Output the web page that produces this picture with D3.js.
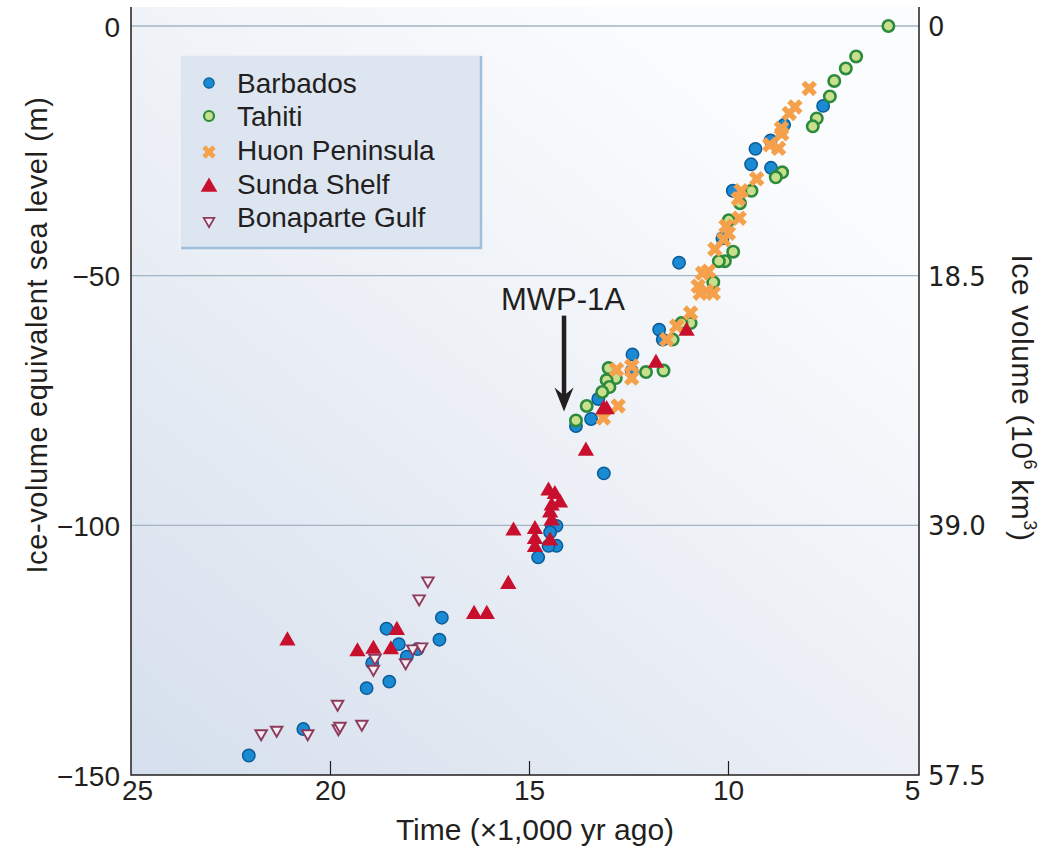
<!DOCTYPE html>
<html><head><meta charset="utf-8">
<script src="https://cdn.jsdelivr.net/npm/d3@7"></script>
<style>
html,body{margin:0;padding:0;background:#fff;}
svg{display:block;}
text{fill:#231f20;}
</style></head>
<body>
<svg id="chart" width="1043" height="850" font-family="'Liberation Sans',Arial,Helvetica,sans-serif"></svg>
<script>
// ---- Data (time in kyr ago, sea level in m) ----
const barbados = [[22.04,-146.1],[20.67,-140.8],[19.08,-132.6],[18.51,-131.3],[18.94,-127.6],[18.58,-120.7],[18.27,-123.8],[18.07,-126.3],[17.80,-124.8],[17.25,-122.9],[17.19,-118.5],[14.77,-106.4],[14.43,-100.1],[14.31,-100.1],[14.47,-101.4],[14.31,-104.1],[14.51,-104.1],[13.12,-89.6],[13.82,-80.1],[13.44,-78.7],[13.26,-74.7],[12.40,-65.8],[12.42,-69.1],[11.73,-60.8],[11.64,-62.8],[11.23,-47.4],[10.14,-42.5],[9.88,-33.0],[9.42,-27.7],[8.92,-28.4],[9.31,-24.6],[8.93,-22.9],[8.59,-19.8],[7.61,-16.0]];
const tahiti = [[5.97,0],[6.78,-6.1],[7.04,-8.5],[7.33,-11.0],[7.44,-14.1],[7.77,-18.5],[7.87,-20.1],[8.64,-29.3],[8.80,-30.3],[9.41,-33.0],[9.70,-35.5],[9.98,-38.9],[9.87,-45.2],[10.08,-47.1],[10.23,-47.1],[10.37,-51.3],[10.94,-59.5],[11.17,-59.5],[11.39,-62.8],[11.62,-69.0],[12.06,-69.3],[13.00,-68.5],[12.82,-70.5],[13.05,-70.9],[12.98,-72.3],[13.16,-73.3],[13.55,-76.1],[13.82,-79.0]];
const huon = [[7.96,-12.5],[8.32,-16.2],[8.46,-17.5],[8.66,-20.5],[8.65,-21.6],[8.95,-23.8],[8.73,-24.5],[9.28,-30.6],[9.67,-33.0],[9.74,-34.6],[9.72,-38.5],[10.05,-40.1],[9.99,-41.5],[10.11,-42.8],[10.33,-44.7],[10.49,-49.1],[10.64,-49.5],[10.75,-52.1],[10.70,-53.5],[10.54,-53.1],[10.37,-53.5],[10.94,-57.5],[11.29,-60.1],[11.54,-62.8],[12.42,-68.1],[12.80,-68.8],[12.42,-70.5],[12.76,-76.1],[13.13,-78.5]];
const sunda = [[21.07,-123.1],[19.31,-125.3],[18.91,-124.8],[18.47,-124.9],[18.32,-121.0],[16.38,-117.8],[16.06,-117.8],[15.52,-111.8],[15.39,-101.1],[14.85,-100.8],[14.85,-102.8],[14.85,-104.4],[14.47,-103.1],[14.51,-93.1],[14.35,-93.8],[14.22,-95.5],[14.43,-96.1],[14.47,-97.5],[14.43,-99.1],[13.57,-85.1],[13.13,-76.8],[13.05,-76.8],[11.81,-67.5],[11.04,-61.1]];
const bonaparte = [[21.73,-141.7],[21.34,-141.0],[20.56,-141.7],[19.81,-135.8],[19.79,-140.7],[19.75,-140.2],[19.20,-139.8],[18.87,-126.6],[18.91,-128.8],[18.10,-127.5],[17.92,-124.7],[17.70,-124.3],[17.76,-114.7],[17.54,-111.1]];

const seriesNames = ["Barbados","Tahiti","Huon Peninsula","Sunda Shelf","Bonaparte Gulf"];
const timeTicks = [25,20,15,10,5];
const seaTicks = [0,-50,-100,-150];
const seaTickLabels = ["0","\u221250","\u2212100","\u2212150"];
const iceVolumeLabels = ["0","18.5","39.0","57.5"];
const annotation = {label:"MWP-1A", time:14.12, textLevel:-56.8, arrowTop:-58, arrowTip:-77.2};

// ---- Layout ----
const svg = d3.select("#chart");
const L = 131, R = 919, T = 7, B = 775;
const x = d3.scaleLinear().domain([25,5]).range([131,927]);
const y = d3.scaleLinear().domain([-150,0]).range([775,26]);
const ink = "#231f20";
const sans = "'Liberation Sans',Arial,Helvetica,sans-serif";

const defs = svg.append("defs");
const grad = defs.append("linearGradient").attr("id","bg")
  .attr("x1","0").attr("y1","1").attr("x2","0.75").attr("y2","0.1");
grad.append("stop").attr("offset","0").attr("stop-color","#d5dfed");
grad.append("stop").attr("offset","0.55").attr("stop-color","#ecf0f6");
grad.append("stop").attr("offset","1").attr("stop-color","#fbfcfd");

svg.append("rect").attr("x",L).attr("y",T).attr("width",R-L).attr("height",B-T).attr("fill","url(#bg)");

// gridlines
svg.append("g").selectAll("line").data(seaTicks.slice(0,3)).join("line")
  .attr("x1",L).attr("x2",R).attr("y1",d=>y(d)).attr("y2",d=>y(d))
  .attr("stroke","#a3b4c4").attr("stroke-width",1.3);

// frame lines (left, bottom, right)
svg.append("path").attr("d",`M${L},${T}V${B}H${R}V${T}`).attr("fill","none").attr("stroke",ink).attr("stroke-width",1.5);

// x axis
const xAxis = svg.append("g").attr("transform",`translate(0,${B})`)
  .call(d3.axisBottom(x).tickValues(timeTicks).tickSizeInner(-14).tickSizeOuter(0).tickPadding(5).tickFormat(d3.format("d")));
xAxis.select(".domain").remove();
xAxis.selectAll(".tick line").attr("stroke",ink).attr("stroke-width",1.2)
  .attr("display",d=>(d===25||d===5)?"none":null);
xAxis.selectAll(".tick text").style("font-size","28px").style("fill",ink)
  .style("font-family",sans)
  .attr("dx",d=>d===25?6:(d===5?-15:0));

// left y axis
const yAxis = svg.append("g").attr("transform",`translate(${L},0)`)
  .call(d3.axisLeft(y).tickValues(seaTicks).tickSize(0).tickPadding(11).tickFormat((d,i)=>seaTickLabels[i]));
yAxis.select(".domain").remove();
yAxis.selectAll(".tick text").style("font-size","28px").style("fill",ink)
  .style("font-family",sans).attr("dy","0.36em");

// right axis
const yAxisR = svg.append("g").attr("transform",`translate(${R},0)`)
  .call(d3.axisRight(y).tickValues(seaTicks).tickSize(0).tickPadding(9).tickFormat((d,i)=>iceVolumeLabels[i]));
yAxisR.select(".domain").remove();
yAxisR.selectAll(".tick text").style("font-size","26px").style("fill",ink)
  .style("font-family","'DejaVu Sans',Verdana,sans-serif").attr("dy","0.36em");

// axis titles
svg.append("text").attr("x",535).attr("y",840).attr("text-anchor","middle").style("font-size","30px")
  .text("Time (\u00d71,000 yr ago)");
svg.append("text").attr("transform","translate(47,335) rotate(-90)").attr("text-anchor","middle")
  .style("font-size","29px").attr("letter-spacing","0.6")
  .text("Ice-volume equivalent sea level (m)");
const rt = svg.append("text").attr("transform","translate(1012,398) rotate(90)").attr("text-anchor","middle")
  .style("font-size","30px").attr("letter-spacing","0.6");
rt.append("tspan").text("Ice volume (10");
rt.append("tspan").style("font-size","18px").attr("dy",-12).text("6");
rt.append("tspan").attr("dy",12).text(" km");
rt.append("tspan").style("font-size","18px").attr("dy",-12).text("3");
rt.append("tspan").attr("dy",12).text(")");

// ---- markers ----
const gB = svg.append("g");
gB.selectAll("circle").data(barbados).join("circle")
  .attr("cx",d=>x(d[0])).attr("cy",d=>y(d[1])).attr("r",6.2)
  .attr("fill","#1a8ad2").attr("stroke","#0c5a98").attr("stroke-width",1.5);
const gT = svg.append("g");
gT.selectAll("circle").data(tahiti).join("circle")
  .attr("cx",d=>x(d[0])).attr("cy",d=>y(d[1])).attr("r",5.7)
  .attr("fill","#c8df8e").attr("stroke","#2c8a3c").attr("stroke-width",2.6);
const crossPath = d3.symbol().type(d3.symbolCross).size(150)();
const gH = svg.append("g");
gH.selectAll("path").data(huon).join("path")
  .attr("d",crossPath).attr("transform",d=>`translate(${x(d[0])},${y(d[1])}) rotate(45)`)
  .attr("fill","#f5a14c");
const triPath = d3.symbol().type(d3.symbolTriangle).size(115)();
const gS = svg.append("g");
gS.selectAll("path").data(sunda).join("path")
  .attr("d",triPath).attr("transform",d=>`translate(${x(d[0])},${y(d[1])})`)
  .attr("fill","#c8102e");
const triSmall = d3.symbol().type(d3.symbolTriangle).size(58)();
const gG = svg.append("g");
gG.selectAll("path").data(bonaparte).join("path")
  .attr("d",triSmall).attr("transform",d=>`translate(${x(d[0])},${y(d[1])}) rotate(180)`)
  .attr("fill","#f4eef3").attr("stroke","#8e3a5c").attr("stroke-width",1.9);

// ---- annotation ----
const ax = x(annotation.time);
svg.append("text").attr("x",ax-1).attr("y",y(annotation.textLevel)).attr("text-anchor","middle")
  .style("font-size","31px").text(annotation.label);
const tipY = y(annotation.arrowTip);
svg.append("line").attr("x1",ax).attr("x2",ax).attr("y1",y(annotation.arrowTop)).attr("y2",tipY-14)
  .attr("stroke",ink).attr("stroke-width",4.5);
svg.append("path").attr("d",`M${ax},${tipY} L${ax-9.5},${tipY-24} L${ax},${tipY-16} L${ax+9.5},${tipY-24} Z`)
  .attr("fill",ink);

// ---- legend ----
const lg = svg.append("g");
lg.append("rect").attr("x",180).attr("y",55).attr("width",301).attr("height",193)
  .attr("fill","#dce5f0").attr("stroke","#eef3f8").attr("stroke-width",1.5);
lg.append("path").attr("d","M481,56 V248 H181").attr("fill","none").attr("stroke","#9fc0dc").attr("stroke-width",2.5);
const rowY = [83,116,150,184,217];
const items = lg.selectAll("g.item").data(seriesNames).join("g").attr("class","item")
  .attr("transform",(d,i)=>`translate(209,${rowY[i]})`);
items.append("text").attr("x",28).attr("y",0).attr("dy","0.36em").style("font-size","28px").text(d=>d);
items.each(function(d,i){
  const g = d3.select(this);
  if(i===0) g.append("circle").attr("r",5.2).attr("fill","#1a8ad2").attr("stroke","#0c5a98").attr("stroke-width",1.2);
  if(i===1) g.append("circle").attr("r",5).attr("fill","#c8df8e").attr("stroke","#2c8a3c").attr("stroke-width",2.2);
  if(i===2) g.append("path").attr("d",d3.symbol().type(d3.symbolCross).size(110)()).attr("transform","translate(0,2) rotate(45)").attr("fill","#f5a14c");
  if(i===3) g.append("path").attr("d",d3.symbol().type(d3.symbolTriangle).size(120)()).attr("transform","translate(0,3)").attr("fill","#c8102e");
  if(i===4) g.append("path").attr("d",d3.symbol().type(d3.symbolTriangle).size(48)()).attr("transform","translate(0,4) rotate(180)").attr("fill","#f4eef3").attr("stroke","#8e3a5c").attr("stroke-width",1.8);
});
</script>
</body></html>
